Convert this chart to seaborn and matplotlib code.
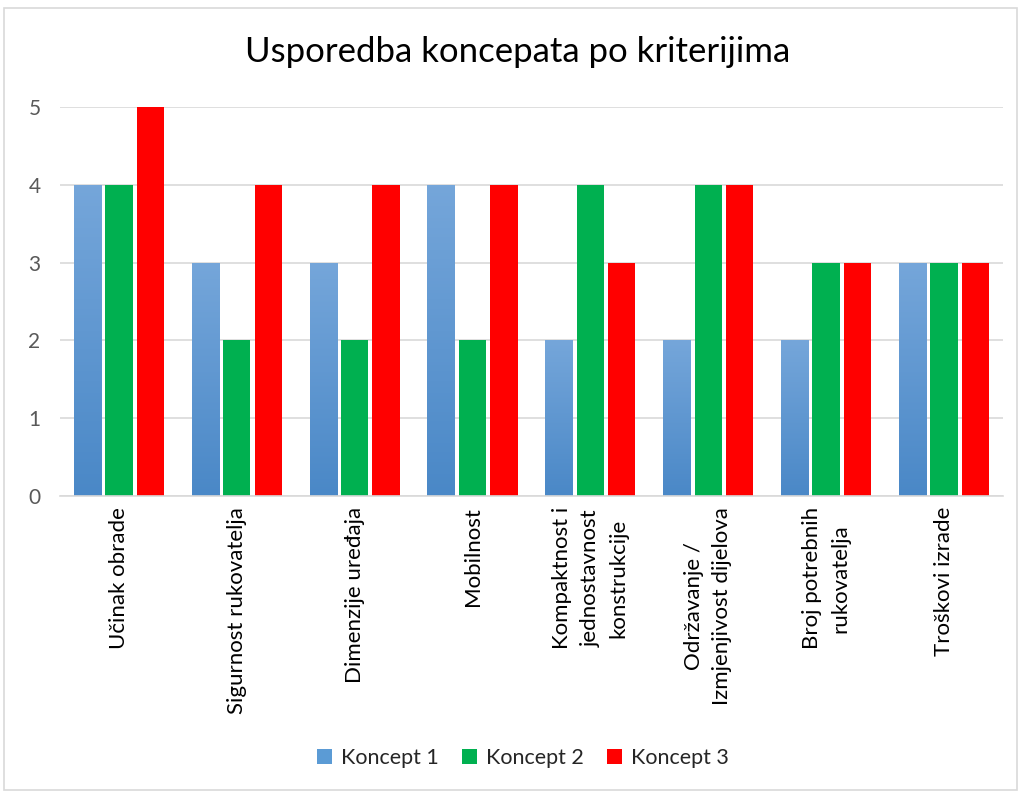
import numpy as np
import pandas as pd
import matplotlib
matplotlib.use("Agg")
import matplotlib.pyplot as plt
import seaborn as sns
from matplotlib.colors import LinearSegmentedColormap
from matplotlib.patches import Rectangle

kriteriji = [
    "Učinak obrade",
    "Sigurnost rukovatelja",
    "Dimenzije uređaja",
    "Mobilnost",
    "Kompaktnost i\njednostavnost\nkonstrukcije",
    "Održavanje /\nIzmjenjivost dijelova",
    "Broj potrebnih\nrukovatelja",
    "Troškovi izrade",
]
koncept_1 = [4, 3, 3, 4, 2, 2, 2, 3]
koncept_2 = [4, 2, 2, 2, 4, 4, 3, 3]
koncept_3 = [5, 4, 4, 4, 3, 4, 3, 3]
koncepti = ["Koncept 1", "Koncept 2", "Koncept 3"]
boje = ["#5b9bd5", "#00b050", "#ff0000"]

df = pd.DataFrame({
    "Kriterij": kriteriji * 3,
    "Ocjena": koncept_1 + koncept_2 + koncept_3,
    "Koncept": [k for k in koncepti for _ in kriteriji],
})

sns.set_theme(style="white")
plt.rcParams["font.family"] = ["Lato", "DejaVu Sans"]

fig = plt.figure(figsize=(10.19, 7.94), dpi=100)
ax = fig.add_axes([0.0589, 0.3753, 0.9253, 0.4899])

sns.barplot(data=df, x="Kriterij", y="Ocjena", hue="Koncept",
            palette=boje, width=0.80, gap=0.13, ax=ax,
            errorbar=None, saturation=1, legend=True, linewidth=0)

n = len(kriteriji)
ax.set_yticks(range(0, 6))
ax.yaxis.grid(True, color="#d9d9d9", linewidth=1.2)
ax.set_axisbelow(True)
for s in ["top", "right", "left"]:
    ax.spines[s].set_visible(False)
ax.spines["bottom"].set_color("#d9d9d9")
ax.spines["bottom"].set_linewidth(1.2)
ax.tick_params(axis="y", length=0, pad=14, labelsize=15, labelcolor="#595959")
ax.tick_params(axis="x", length=0, pad=8, labelsize=16, labelcolor="#000000")
ax.set_xticks(range(n))
ax.set_xticklabels(kriteriji, rotation=90, ha="center", va="top",
                   multialignment="center", linespacing=1.5)
ax.set_xlabel("")
ax.set_ylabel("")

# vertical gradient fill for the first concept's bars
grad = LinearSegmentedColormap.from_list("k1", ["#4a88c7", "#75a6da"])
for patch in ax.patches[:n]:
    x0, y0 = patch.get_x(), patch.get_y()
    w, h = patch.get_width(), patch.get_height()
    img = ax.imshow(np.linspace(0, 1, 100).reshape(-1, 1), cmap=grad,
                    origin="lower", aspect="auto",
                    extent=[x0, x0 + w, y0, y0 + h], zorder=patch.get_zorder())
    img.set_clip_path(patch)
    patch.set_alpha(0)
ax.set_xlim(-0.5, n - 0.5)
ax.set_ylim(0, 5)

handles, labels = ax.get_legend_handles_labels()
ax.legend_.remove()
leg = fig.legend(handles, labels, loc="center", bbox_to_anchor=(0.513, 0.045),
                 ncol=3, frameon=False, fontsize=15.5, handlelength=0.7,
                 handleheight=0.7, columnspacing=1.1, handletextpad=0.4)
leg.legend_handles[0].set_facecolor("#5b9bd5")
leg.legend_handles[0].set_alpha(1)

fig.text(0.508, 0.935, "Usporedba koncepata po kriterijima",
         ha="center", va="center", fontsize=25, color="#000000")

fig.patches.append(Rectangle((0.004, 0.005), 0.994, 0.985, transform=fig.transFigure,
                             fill=False, edgecolor="#d9d9d9", linewidth=1.2))

fig.savefig("out.png", dpi=100)
